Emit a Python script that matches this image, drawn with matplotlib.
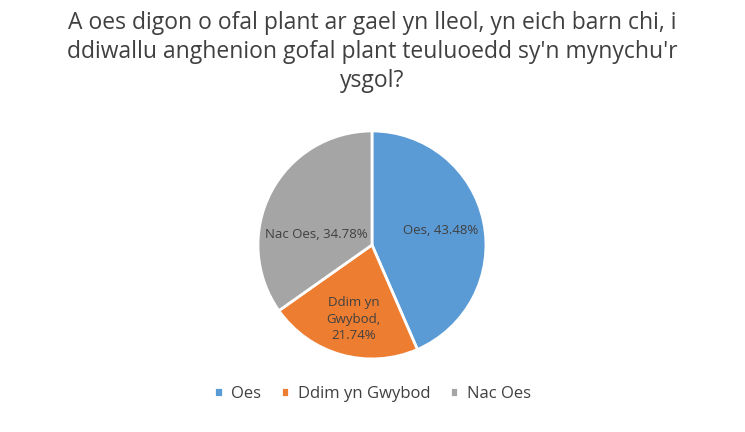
import matplotlib.pyplot as plt

labels = ['Oes', 'Ddim yn Gwybod', 'Nac Oes']
values = [43.48, 21.74, 34.78]
label_text = ['Oes, 43.48%', 'Ddim yn\nGwybod,\n21.74%', 'Nac Oes, 34.78%']
colors = ['#5B9BD5', '#ED7D31', '#A5A5A5']

plt.rcParams['font.family'] = ['Open Sans', 'DejaVu Sans']

fig = plt.figure(figsize=(7.45, 4.32), dpi=100)

fig.text(0.5, 0.975, "A oes digon o ofal plant ar gael yn lleol, yn eich barn chi, i\n"
         "ddiwallu anghenion gofal plant teuluoedd sy'n mynychu'r\nysgol?",
         ha='center', va='top', fontsize=16.5, color='#404040', linespacing=1.27)

ax = fig.add_axes([0.4993 - 0.153, 0.433 - 0.264, 0.306, 0.528])
wedges, _ = ax.pie(values, colors=colors, startangle=90, counterclock=False,
                   wedgeprops=dict(edgecolor='white', linewidth=2))
ax.set_xlim(-1, 1)
ax.set_ylim(-1, 1)
ax.set_aspect('equal')

# label positions (excel "best fit" style)
pos = [(0.60, 0.13), (-0.16, -0.65), (-0.49, 0.09)]
for (x, y), t in zip(pos, label_text):
    ax.text(x, y, t, ha='center', va='center', fontsize=9.5, color='#404040', linespacing=1.38)

fig.legend(wedges, labels, loc='center', bbox_to_anchor=(0.5, 0.088), ncol=3,
           frameon=False, fontsize=12, handlelength=0.5, handleheight=0.5,
           handletextpad=0.5, columnspacing=1.2, labelcolor='#404040')

fig.savefig('out.png', dpi=100)
